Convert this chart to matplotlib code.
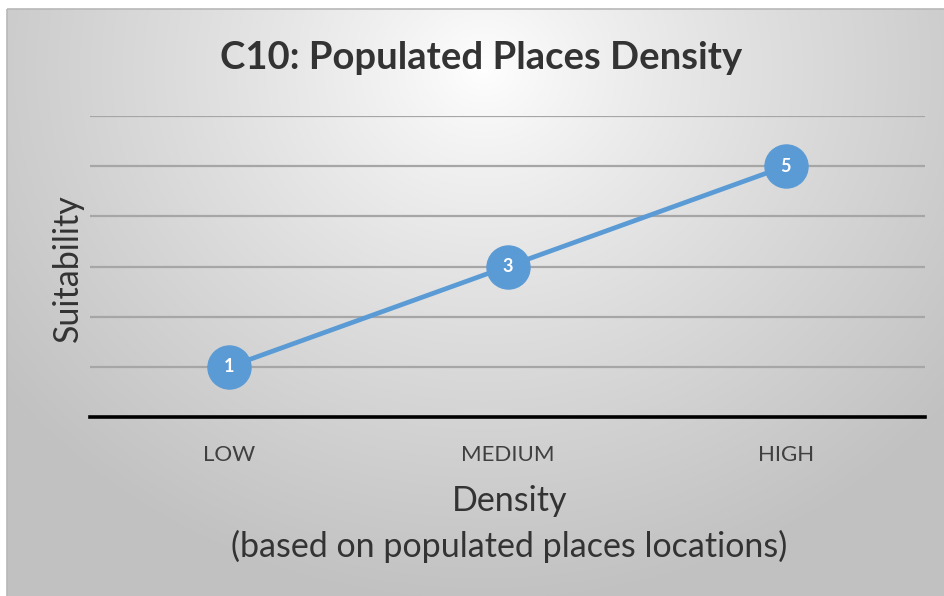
import numpy as np
import matplotlib.pyplot as plt
from matplotlib.patches import Rectangle

plt.rcParams["font.family"] = ["Lato", "DejaVu Sans"]

# data
categories = ["LOW", "MEDIUM", "HIGH"]
suitability = [1, 3, 5]
grid_levels = [1, 2, 3, 4, 5, 6]

fig = plt.figure(figsize=(9.44, 5.96), dpi=100)

# background: radial gradient white -> grey, inside a frame
bg = fig.add_axes([0, 0, 1, 1], zorder=0)
bg.set_xlim(0, 944)
bg.set_ylim(596, 0)
bg.axis("off")
yy, xx = np.mgrid[0:596, 0:944]
d = np.sqrt(((xx - 480) / 600.0) ** 2 + ((yy - 60) / 540.0) ** 2)
d = np.clip(d, 0, 1)
shade = 1.0 - 0.24 * d ** 0.85
img = np.dstack([shade, shade, shade])
bg.imshow(img, extent=(7, 944, 596, 9), aspect="auto", interpolation="bilinear")
bg.add_patch(Rectangle((7, 9), 944, 600, fill=False, edgecolor="#b8b8b8", lw=1.2))

ax = fig.add_axes([90 / 944, 1 - 417 / 596, (925 - 90) / 944, (417 - 116) / 596], zorder=1)
ax.patch.set_alpha(0)
x = np.arange(len(categories))

for g in grid_levels:
    ax.axhline(g, color="#a6a6a6", lw=1.6, zorder=1)
ax.axhline(0, color="black", lw=2.6, zorder=2, clip_on=False)

ax.plot(x, suitability, color="#5b9bd5", lw=3.4, marker="o", markersize=31,
        markerfacecolor="#5b9bd5", markeredgecolor="#5b9bd5", zorder=3, clip_on=False)
for xi, v in zip(x, suitability):
    ax.text(xi, v, str(v), ha="center", va="center", color="white",
            fontsize=13, fontweight="bold", zorder=4)

ax.set_xlim(-0.5, 2.5)
ax.set_ylim(0, 6)
ax.set_xticks(x)
ax.set_xticklabels(categories, fontsize=16, color="#404040")
ax.set_yticks([])
ax.tick_params(axis="x", length=0, pad=20)
for s in ax.spines.values():
    s.set_visible(False)

fig.text(481 / 944, 1 - 58 / 596, "C10: Populated Places Density", ha="center", va="center",
         fontsize=27.5, fontweight="bold", color="#333333")
fig.text(68 / 944, 1 - 268 / 596, "Suitability", ha="center", va="center", rotation=90,
         fontsize=24.5, color="#333333")
fig.text(510 / 944, 1 - 501 / 596, "Density", ha="center", va="center",
         fontsize=24.5, color="#333333")
fig.text(509 / 944, 1 - 546 / 596, "(based on populated places locations)", ha="center", va="center",
         fontsize=24.5, color="#333333")

fig.savefig("out.png", dpi=100)
